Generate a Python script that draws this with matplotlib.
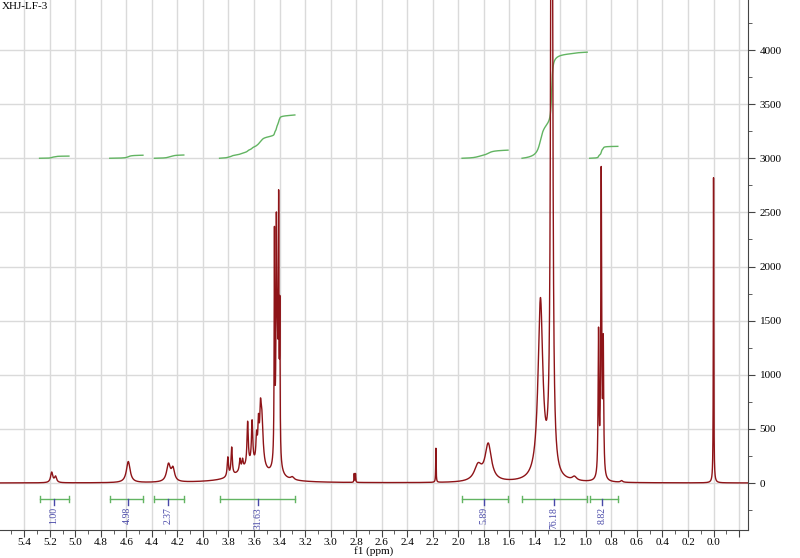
import numpy as np
import matplotlib
matplotlib.use('Agg')
import matplotlib.pyplot as plt
from matplotlib.ticker import MultipleLocator

# peak list (ppm, height, line width in ppm)
peak_ppm = [5.185, 5.155, 4.585, 4.270, 4.235,
            3.805, 3.775, 3.710, 3.690, 3.650, 3.615, 3.580, 3.565, 3.550, 3.540, 3.620,
            3.440, 3.425, 3.407, 3.398, 3.420, 3.300,
            2.815, 2.805, 2.175, 1.845, 1.765,
            1.356, 1.268, 1.090,
            0.901, 0.880, 0.864, 0.720, 0.000]
peak_height = [95, 55, 195, 160, 115,
               180, 260, 110, 85, 400, 390, 230, 330, 300, 480, 150,
               2000, 1300, 2050, 1300, 1300, 25,
               80, 80, 315, 140, 340,
               1650, 11000, 35,
               1320, 2800, 1190, 15, 2820]
peak_width = [0.02, 0.02, 0.035, 0.035, 0.03,
              0.012, 0.012, 0.012, 0.012, 0.012, 0.012, 0.012, 0.012, 0.012, 0.025, 0.25,
              0.005, 0.005, 0.005, 0.005, 0.02, 0.03,
              0.004, 0.004, 0.004, 0.07, 0.06,
              0.045, 0.013, 0.04,
              0.008, 0.008, 0.008, 0.02, 0.004]

# integrals: region (ppm), printed value, label position, rise of the curve
int_start = [5.28, 4.73, 4.38, 3.87, 1.97, 1.50, 0.97]
int_end = [5.05, 4.47, 4.15, 3.28, 1.61, 0.99, 0.75]
int_value = ['1.00', '4.98', '2.37', '31.63', '5.89', '76.18', '8.82']
int_label = [5.17, 4.59, 4.27, 3.57, 1.80, 1.25, 0.87]
int_rise = [20, 28, 30, 400, 75, 980, 110]

x = np.linspace(5.59, -0.27, 30000)
y = np.zeros_like(x)
for p, h, w in zip(peak_ppm, peak_height, peak_width):
    y += h / (1 + (2 * (x - p) / w) ** 2)

fig = plt.figure(figsize=(8, 5.58), dpi=100)
ax = fig.add_axes([0.0, 1 - 530 / 558, 748 / 800, 530 / 558])

ax.plot(x, y, color='#8e1418', lw=1.0, zorder=3)

green = '#62b462'
blue = '#4848a8'
for s, e, v, lp, r in zip(int_start, int_end, int_value, int_label, int_rise):
    m = (x <= s) & (x >= e)
    c = np.cumsum(y[m])
    c = c / c[-1] * r
    ax.plot(x[m], 3000 + c, color=green, lw=1.0, zorder=2)
    ax.plot([s, e], [-148, -148], color=green, lw=1.0)
    ax.plot([s, s], [-175, -121], color=green, lw=1.0)
    ax.plot([e, e], [-175, -121], color=green, lw=1.0)
    ax.plot([lp, lp], [-148, -205], color=blue, lw=1.0)
    ax.text(lp, -222, v, rotation=90, ha='center', va='top', color=blue,
            fontsize=7, family='Liberation Serif')

ax.set_xlim(5.59, -0.27)
ax.set_ylim(-434, 4462)

ax.xaxis.set_major_locator(MultipleLocator(0.2))
ax.xaxis.set_minor_locator(MultipleLocator(0.1))
ax.yaxis.set_major_locator(MultipleLocator(500))
ax.yaxis.set_minor_locator(MultipleLocator(250))
ax.yaxis.tick_right()


def ppm_fmt(v, pos):
    if v < -0.05:
        return ''
    return '%.1f' % abs(v) if abs(v) < 1e-9 else '%.1f' % v


ax.xaxis.set_major_formatter(plt.FuncFormatter(ppm_fmt))
ax.grid(True, which='major', color='#dadada', lw=1.0)
ax.set_axisbelow(True)

for sp in ['top', 'left']:
    ax.spines[sp].set_visible(False)
ax.spines['bottom'].set_color('#444444')
ax.spines['right'].set_color('#444444')
ax.tick_params(axis='both', which='major', length=5, color='#444444', labelsize=8)
ax.tick_params(axis='x', which='major', pad=1)
ax.tick_params(axis='both', which='minor', length=3, color='#444444')
for lab in ax.get_xticklabels() + ax.get_yticklabels():
    lab.set_family('Liberation Serif')

fig.text(374 / 800, 1 - 551 / 558, 'f1 (ppm)', ha='center', va='center', fontsize=8,
         family='Liberation Serif')
fig.text(0.002, 0.996, 'XHJ-LF-3', ha='left', va='top', fontsize=8, family='Liberation Serif')

fig.savefig('out.png', dpi=100)
